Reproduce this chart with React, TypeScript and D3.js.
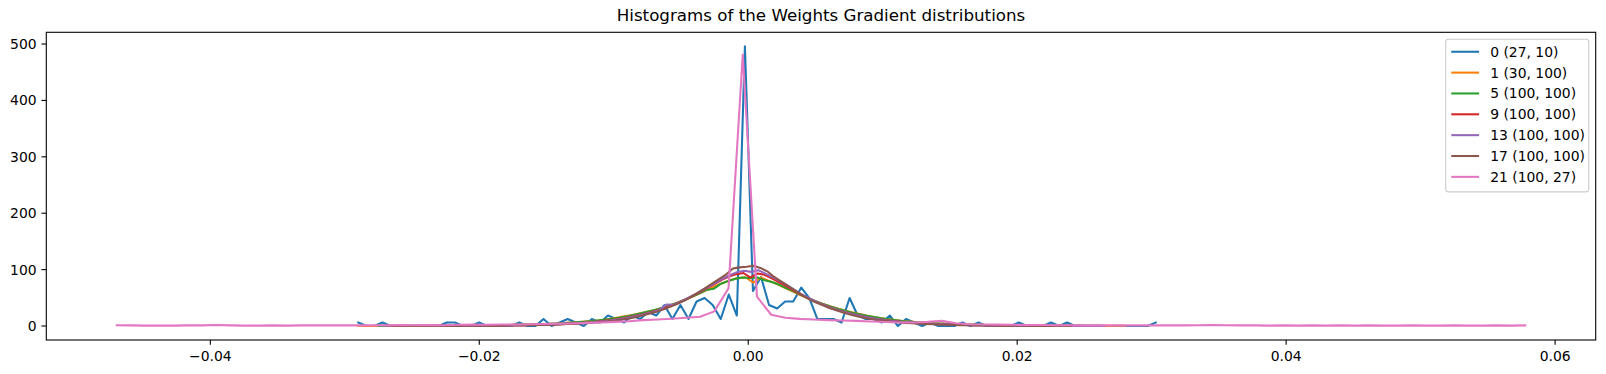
import React, { useEffect } from "react";
import * as d3 from "d3";

const W = 1606;
const H = 374;
const plotLeft = 46.3;
const plotRight = 1595.7;
const plotTop = 32.3;
const plotBottom = 340;

const chartTitle = "Histograms of the Weights Gradient distributions";
const seriesLabels = ["0 (27, 10)", "1 (30, 100)", "5 (100, 100)", "9 (100, 100)", "13 (100, 100)", "17 (100, 100)", "21 (100, 27)"];
const seriesColors = ["#1f77b4", "#ff7f0e", "#2ca02c", "#d62728", "#9467bd", "#8c564b", "#e377c2"];

// histogram bin left edges: first edge and bin width per series
const binStart = [-0.029, -0.029, -0.0275, -0.0262, -0.0255, -0.0268, -0.04696];
const binWidth = [0.000599, 0.000576, 0.000542, 0.000517, 0.000525, 0.000513, 0.001058];

const layer0 = [
  6.2, 0, 0, 6.2, 0, 0, 0, 0, 0, 0,
  0, 6.2, 6.2, 0, 0, 6.2, 0, 0, 0, 0,
  6.2, 0, 0, 12.4, 0, 6.2, 12.4, 6.2, 0, 12.4,
  6.2, 18.6, 12.4, 6.2, 18.6, 12.4, 24.8, 18.6, 37.2, 12.4,
  37.2, 12.4, 43.4, 49.6, 37.2, 12.4, 55.8, 18.6, 496.0, 62.0,
  86.8, 37.2, 31.0, 43.4, 43.4, 68.2, 49.6, 12.4, 12.4, 12.4,
  6.2, 49.6, 18.6, 12.4, 12.4, 6.2, 18.6, 0, 12.4, 6.2,
  0, 6.2, 0, 0, 0, 6.2, 0, 6.2, 0, 0,
  0, 0, 6.2, 0, 0, 0, 6.2, 0, 6.2, 0,
  0, 0, 0, 0, 0, 0, 0, 0, 0, 6.2,
];
const layer1 = [
  0.6, 0, 0, 0.6, 0, 0, 0.6, 0, 0.6, 0,
  0.6, 0.6, 0, 0.6, 1.2, 0.6, 1.2, 1.2, 1.7, 1.2,
  2.3, 2.3, 2.9, 2.9, 3.5, 4.0, 4.6, 5.8, 6.4, 7.5,
  8.7, 9.8, 11.6, 13.9, 16.2, 18.5, 21.4, 24.3, 27.2, 31.2,
  35.3, 40.0, 45.6, 51.5, 57.4, 63.8, 70.0, 76.0, 81.0, 85.0,
  86.5, 77.0, 86.0, 80.0, 75.0, 68.0, 62.0, 55.5, 49.5, 44.0,
  39.0, 34.6, 30.5, 26.8, 23.4, 20.3, 17.4, 15.1, 12.8, 11.0,
  9.3, 8.1, 7.0, 5.8, 5.2, 4.6, 4.0, 3.5, 2.9, 2.3,
  2.3, 1.7, 1.7, 1.2, 1.2, 1.2, 0.6, 1.2, 0.6, 0.6,
  0.6, 0, 0.6, 0.6, 0, 0.6, 0, 0, 0.6, 0.6,
];
const layer5 = [
  0.2, 0, 0.2, 0, 0.2, 0.2, 0.2, 0.4, 0.4, 0.4,
  0.6, 0.6, 0.8, 0.8, 1.0, 1.2, 1.4, 1.6, 1.8, 2.0,
  2.4, 2.7, 3.2, 3.6, 4.2, 4.8, 5.6, 6.4, 7.5, 8.6,
  9.8, 11.2, 12.8, 14.7, 17.0, 19.6, 22.4, 25.5, 28.8, 32.5,
  36.8, 41.5, 46.5, 52.0, 57.5, 64.0, 66.0, 75.0, 80.0, 84.0,
  86.0, 85.0, 86.0, 81.0, 78.0, 73.0, 67.0, 61.5, 55.0, 49.5,
  44.0, 39.0, 34.5, 30.5, 27.0, 23.5, 20.8, 18.0, 15.8, 13.6,
  12.0, 10.3, 8.8, 7.7, 6.7, 5.8, 5.0, 4.4, 3.8, 3.3,
  2.9, 2.5, 2.2, 1.9, 1.6, 1.4, 1.2, 1.0, 1.0, 0.8,
  0.8, 0.6, 0.6, 0.4, 0.4, 0.4, 0.2, 0.4, 0.2, 0.2,
];
const layer9 = [
  0.2, 0, 0, 0.2, 0, 0.2, 0.2, 0, 0.4, 0.4,
  0.6, 0.6, 0.6, 0.8, 0.8, 1.0, 1.2, 1.4, 1.6, 1.8,
  2.1, 2.5, 2.9, 3.3, 3.8, 4.4, 5.1, 5.9, 6.8, 7.9,
  9.1, 10.5, 12.3, 14.4, 16.8, 19.4, 22.2, 25.7, 29.1, 33.4,
  38.2, 43.4, 49.0, 55.4, 61.9, 68.8, 75.8, 82.7, 88.0, 92.0,
  94.0, 86.0, 93.0, 91.0, 85.0, 78.5, 71.5, 64.4, 57.7, 51.2,
  45.3, 40.0, 35.1, 30.5, 26.8, 23.3, 20.3, 17.7, 15.2, 13.0,
  11.2, 9.6, 8.3, 7.2, 6.2, 5.4, 4.6, 4.0, 3.4, 3.0,
  2.6, 2.2, 1.9, 1.6, 1.4, 1.2, 1.0, 1.0, 0.8, 0.6,
  0.6, 0.4, 0.4, 0.4, 0.2, 0.4, 0.2, 0, 0.2, 0.2,
];
const layer13 = [
  0.2, 0, 0.2, 0, 0.2, 0.2, 0.4, 0.2, 0.4, 0.4,
  0.6, 0.6, 0.8, 0.8, 1.0, 1.2, 1.4, 1.6, 1.8, 2.2,
  2.5, 2.9, 3.4, 4.0, 4.6, 5.4, 6.3, 7.4, 8.5, 9.8,
  11.5, 13.5, 15.8, 18.4, 21.3, 24.5, 28.4, 38.0, 37.6, 43.2,
  49.5, 56.0, 63.0, 70.0, 77.5, 84.5, 90.5, 95.5, 98.0, 96.0,
  99.0, 93.0, 87.0, 80.0, 73.0, 65.0, 57.0, 50.5, 44.0, 38.5,
  33.5, 29.3, 25.5, 22.0, 19.0, 16.5, 14.0, 12.0, 10.2, 8.8,
  7.5, 6.4, 5.5, 4.7, 4.1, 3.5, 3.0, 2.6, 2.2, 1.9,
  1.6, 1.4, 1.2, 1.0, 0.8, 0.8, 0.6, 0.6, 0.4, 0.6,
  0.4, 0.4, 0.2, 0.4, 0.2, 0.2, 0.2, 0, 0.2, 0.2,
];
const layer17 = [
  0.2, 0, 0, 0.2, 0, 0.2, 0, 0.2, 0.2, 0.4,
  0.2, 0.4, 0.4, 0.4, 0.6, 0.6, 0.6, 0.8, 1.0, 1.1,
  1.2, 1.6, 1.8, 2.0, 2.3, 2.7, 3.5, 3.7, 4.5, 5.0,
  6.2, 7.0, 8.6, 9.8, 11.4, 13.2, 16.0, 19.0, 22.0, 25.5,
  29.5, 34.5, 39.5, 45.0, 52.0, 59.0, 67.0, 75.0, 83.0, 91.0,
  102.0, 104.0, 105.0, 107.0, 103.0, 97.0, 87.0, 79.0, 71.0, 63.0,
  55.0, 48.0, 42.0, 37.0, 32.0, 28.0, 24.0, 20.5, 17.5, 14.8,
  12.6, 10.6, 9.2, 7.9, 6.7, 5.6, 4.8, 4.1, 3.6, 3.0,
  2.6, 2.2, 1.8, 1.6, 1.4, 1.2, 1.0, 0.8, 0.8, 0.6,
  0.6, 0.4, 0.4, 0.4, 0.2, 0.2, 0.2, 0, 0.2, 0.2,
];
const layer21 = [
  1.4, 1.1, 0.7, 0.7, 0.7, 1.1, 1.1, 1.8, 1.1, 0.7,
  0.7, 1.1, 0.7, 1.1, 1.1, 1.4, 1.1, 1.1, 1.4, 1.1,
  1.8, 1.4, 1.8, 1.4, 2.1, 2.5, 2.1, 2.8, 2.5, 3.2,
  3.5, 4.2, 4.6, 5.6, 6.3, 7.4, 8.4, 10.5, 11.6, 13.0,
  14.7, 16.5, 26.0, 67.0, 481.0, 52.0, 20.0, 14.7, 12.6, 11.6,
  10.5, 9.8, 9.1, 8.1, 7.0, 6.3, 6.3, 7.4, 9.1, 4.9,
  3.2, 2.8, 2.5, 2.1, 1.8, 1.8, 1.4, 1.4, 1.1, 1.4,
  1.1, 1.1, 1.4, 1.1, 1.4, 1.1, 1.4, 1.8, 1.4, 1.1,
  1.1, 0.7, 1.1, 0.7, 1.1, 0.7, 1.1, 0.7, 1.1, 0.7,
  0.7, 1.1, 0.7, 0.7, 1.1, 0.7, 0.7, 1.1, 0.7, 1.1,
];
const seriesValues = [layer0, layer1, layer5, layer9, layer13, layer17, layer21];

const yTicks = [0, 100, 200, 300, 400, 500];
const xTicks = [-0.04, -0.02, 0, 0.02, 0.04, 0.06];
const xTickLabels = ["\u22120.04", "\u22120.02", "0.00", "0.02", "0.04", "0.06"];

const FONT = "DejaVu Sans, sans-serif";

export default function App() {
  useEffect(() => {
    document.body.style.margin = "0";
  }, []);

  const xs = seriesValues.map((vals, s) => vals.map((_, i) => binStart[s] + i * binWidth[s]));
  const allX = xs.flat();
  const allY = seriesValues.flat();
  const xMin = d3.min(allX) as number;
  const xMax = d3.max(allX) as number;
  const yMin = d3.min(allY) as number;
  const yMax = d3.max(allY) as number;
  const xPad = (xMax - xMin) * 0.05;
  const yPad = (yMax - yMin) * 0.05;

  const x = d3.scaleLinear().domain([xMin - xPad, xMax + xPad]).range([plotLeft, plotRight]);
  const y = d3.scaleLinear().domain([yMin - yPad, yMax + yPad]).range([plotBottom, plotTop]);

  const paths = seriesValues.map((vals, s) => {
    const line = d3
      .line<number>()
      .x((_, i) => x(xs[s][i]))
      .y((v) => y(v));
    return line(vals) as string;
  });

  const tickLen = 4.86;
  const legendLeft = 1445.7;
  const legendTop = 39.25;
  const legendW = 1588.75 - 1445.7;
  const rowH = 20.85;
  const legendH = 5.56 * 2 + rowH * seriesLabels.length - 6.95 + 2.5;

  return (
    <svg
      width={W}
      height={H}
      viewBox={`0 0 ${W} ${H}`}
      style={{ display: "block", position: "absolute", left: 0, top: 0, background: "#fff" }}
      fontFamily={FONT}
    >
      <rect x={0} y={0} width={W} height={H} fill="#fff" />
      <defs>
        <clipPath id="plotClip">
          <rect x={plotLeft} y={plotTop} width={plotRight - plotLeft} height={plotBottom - plotTop} />
        </clipPath>
      </defs>
      <g clipPath="url(#plotClip)">
        {paths.map((d, s) => (
          <path
            key={s}
            d={d}
            fill="none"
            stroke={seriesColors[s]}
            strokeWidth={2.08}
            strokeLinejoin="round"
            strokeLinecap="square"
          />
        ))}
      </g>
      <rect
        x={plotLeft}
        y={plotTop}
        width={plotRight - plotLeft}
        height={plotBottom - plotTop}
        fill="none"
        stroke="#000"
        strokeWidth={1.1}
      />
      {yTicks.map((t) => (
        <g key={`y${t}`}>
          <line x1={plotLeft - tickLen} x2={plotLeft} y1={y(t)} y2={y(t)} stroke="#000" strokeWidth={1.1} />
          <text
            x={plotLeft - tickLen - 4.86}
            y={y(t)}
            textAnchor="end"
            dominantBaseline="central"
            fontSize={13.9}
            fill="#000"
          >
            {t}
          </text>
        </g>
      ))}
      {xTicks.map((t, i) => (
        <g key={`x${t}`}>
          <line x1={x(t)} x2={x(t)} y1={plotBottom} y2={plotBottom + tickLen} stroke="#000" strokeWidth={1.1} />
          <text x={x(t)} y={360.6} textAnchor="middle" fontSize={13.9} fill="#000">
            {xTickLabels[i]}
          </text>
        </g>
      ))}
      <text x={(plotLeft + plotRight) / 2} y={20.6} textAnchor="middle" fontSize={16.7} fill="#000">
        {chartTitle}
      </text>
      <g>
        <rect
          x={legendLeft}
          y={legendTop}
          width={legendW}
          height={legendH}
          rx={2.8}
          ry={2.8}
          fill="#fff"
          fillOpacity={0.8}
          stroke="#cccccc"
          strokeWidth={1.1}
        />
        {seriesLabels.map((lab, s) => {
          const cy = legendTop + 5.56 + 6.95 + s * rowH;
          return (
            <g key={lab}>
              <line
                x1={legendLeft + 5.56}
                x2={legendLeft + 5.56 + 27.8}
                y1={cy}
                y2={cy}
                stroke={seriesColors[s]}
                strokeWidth={2.08}
              />
              <text x={legendLeft + 5.56 + 27.8 + 11.1} y={cy} dominantBaseline="central" fontSize={13.9} fill="#000">
                {lab}
              </text>
            </g>
          );
        })}
      </g>
    </svg>
  );
}
